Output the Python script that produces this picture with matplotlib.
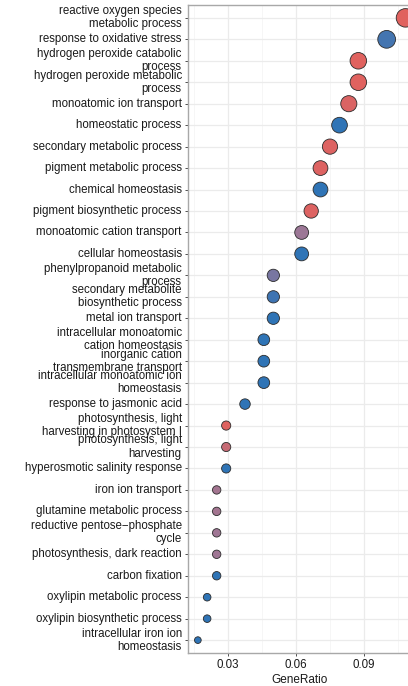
import numpy as np
import matplotlib
matplotlib.use("Agg")
import matplotlib.pyplot as plt
import matplotlib.transforms as mtransforms
from matplotlib.colors import LinearSegmentedColormap

plt.rcParams["font.family"] = ["Liberation Sans", "DejaVu Sans"]

# GO terms, top to bottom
terms = [
    "reactive oxygen species\nmetabolic process",
    "response to oxidative stress",
    "hydrogen peroxide catabolic\nprocess",
    "hydrogen peroxide metabolic\nprocess",
    "monoatomic ion transport",
    "homeostatic process",
    "secondary metabolic process",
    "pigment metabolic process",
    "chemical homeostasis",
    "pigment biosynthetic process",
    "monoatomic cation transport",
    "cellular homeostasis",
    "phenylpropanoid metabolic\nprocess",
    "secondary metabolite\nbiosynthetic process",
    "metal ion transport",
    "intracellular monoatomic\ncation homeostasis",
    "inorganic cation\ntransmembrane transport",
    "intracellular monoatomic ion\nhomeostasis",
    "response to jasmonic acid",
    "photosynthesis, light\nharvesting in photosystem I",
    "photosynthesis, light\nharvesting",
    "hyperosmotic salinity response",
    "iron ion transport",
    "glutamine metabolic process",
    "reductive pentose\u2212phosphate\ncycle",
    "photosynthesis, dark reaction",
    "carbon fixation",
    "oxylipin metabolic process",
    "oxylipin biosynthetic process",
    "intracellular iron ion\nhomeostasis",
]
gene_ratio = [0.1083, 0.1, 0.0875, 0.0875, 0.0833, 0.0792, 0.075, 0.0708,
              0.0708, 0.0667, 0.0625, 0.0625, 0.05, 0.05, 0.05, 0.0458,
              0.0458, 0.0458, 0.0375, 0.0292, 0.0292, 0.0292, 0.025, 0.025,
              0.025, 0.025, 0.025, 0.0208, 0.0208, 0.0167]
counts = [26, 24, 21, 21, 20, 19, 18, 17, 17, 16, 15, 15, 12, 12, 12, 11,
          11, 11, 9, 7, 7, 7, 6, 6, 6, 6, 6, 5, 5, 4]
p_adjust = [0.0002, 0.027, 0.0003, 0.0003, 0.0015, 0.030, 0.001, 0.001,
            0.030, 0.001, 0.015, 0.030, 0.020, 0.028, 0.030, 0.030,
            0.030, 0.030, 0.030, 0.0006, 0.006, 0.030, 0.0135, 0.0135,
            0.0145, 0.0145, 0.030, 0.030, 0.030, 0.030]

cmap = LinearSegmentedColormap.from_list("padj", ["#E0625F", "#9C7796", "#2F74B6"])

W, H = 408, 686
fig = plt.figure(figsize=(W / 100, H / 100), dpi=100)
x0, x1, y0, y1 = 188, 412, 5, 653
ax = fig.add_axes([x0 / W, 1 - y1 / H, (x1 - x0) / W, (y1 - y0) / H])

ypos = np.arange(len(terms))
c = np.array(counts, dtype=float)
diam = 6.7 + (np.sqrt(c) - 2) / (np.sqrt(26) - 2) * (18.5 - 6.7)
sizes = (diam * 0.72) ** 2

ax.scatter(gene_ratio, ypos, s=sizes, c=p_adjust, cmap=cmap,
           vmin=min(p_adjust), vmax=max(p_adjust),
           edgecolors="#2b2b2b", linewidths=0.6, zorder=3, clip_on=True)

px_per_unit = 68 / 0.03
ax.set_xlim(0.03 - (228 - x0) / px_per_unit, 0.03 + (x1 - 228) / px_per_unit)
ax.set_ylim(29.6, -0.6)

ax.set_xticks([0.03, 0.06, 0.09])
ax.set_xticklabels(["0.03", "0.06", "0.09"])
ax.set_xticks([0.015, 0.045, 0.075, 0.105], minor=True)
ax.set_yticks(ypos)
ax.set_yticklabels(terms, va="center", linespacing=1.12)

# nudge the term labels down a touch
shift = mtransforms.ScaledTranslation(0, -1.5 / 100, fig.dpi_scale_trans)
for lab in ax.get_yticklabels():
    lab.set_transform(lab.get_transform() + shift)

ax.grid(True, which="major", color="#EBEBEB", linewidth=0.9, zorder=0)
ax.grid(True, which="minor", axis="x", color="#F3F3F3", linewidth=0.5, zorder=0)
ax.set_axisbelow(True)

ax.tick_params(axis="both", which="major", labelsize=8.3, colors="#333333",
               length=2.5, width=0.6, pad=2, labelcolor="#1a1a1a")
ax.tick_params(axis="x", which="minor", length=0)
for sp in ax.spines.values():
    sp.set_color("#A8A8A8")
    sp.set_linewidth(1.0)

ax.set_xlabel("GeneRatio", fontsize=8.5, color="#1a1a1a", labelpad=2)

fig.savefig("out.png", dpi=100)
